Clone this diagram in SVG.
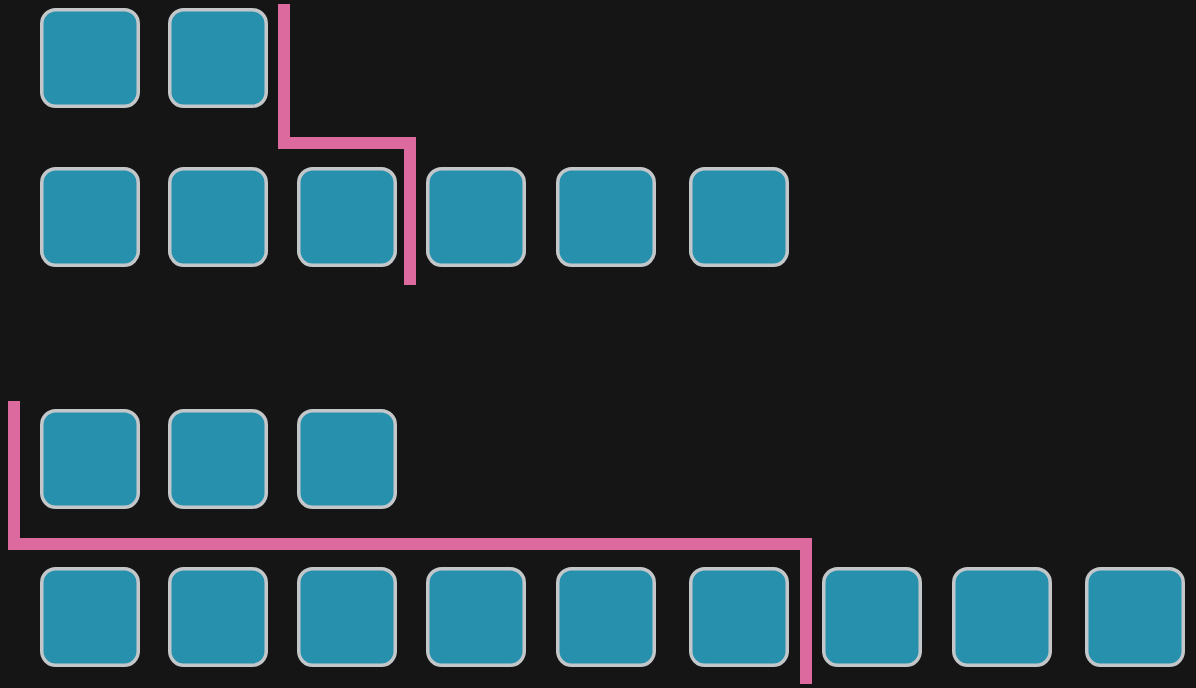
<svg xmlns="http://www.w3.org/2000/svg" width="1196" height="688" viewBox="0 0 1196 688">
<defs>
<style>
.b{fill:#2790ad;stroke:#c3c7c9;stroke-width:3.5}
.p{fill:none;stroke:#dc6a9e;stroke-width:12;stroke-linejoin:miter;stroke-linecap:butt}
</style>
<rect id="cell" x="1.75" y="1.75" width="96.5" height="96.5" rx="14" ry="14" class="b"/>
</defs>
<rect width="1196" height="688" fill="#151515"/>
<g id="row1">
<use id="n1_1" href="#cell" x="40" y="8"/>
<use id="n1_2" href="#cell" x="168" y="8"/>
</g>
<g id="row2">
<use id="n2_1" href="#cell" x="40" y="167"/>
<use id="n2_2" href="#cell" x="168" y="167"/>
<use id="n2_3" href="#cell" x="297" y="167"/>
<use id="n2_4" href="#cell" x="426" y="167"/>
<use id="n2_5" href="#cell" x="556" y="167"/>
<use id="n2_6" href="#cell" x="689" y="167"/>
</g>
<g id="row3">
<use id="n3_1" href="#cell" x="40" y="409"/>
<use id="n3_2" href="#cell" x="168" y="409"/>
<use id="n3_3" href="#cell" x="297" y="409"/>
</g>
<g id="row4">
<use id="n4_1" href="#cell" x="40" y="567"/>
<use id="n4_2" href="#cell" x="168" y="567"/>
<use id="n4_3" href="#cell" x="297" y="567"/>
<use id="n4_4" href="#cell" x="426" y="567"/>
<use id="n4_5" href="#cell" x="556" y="567"/>
<use id="n4_6" href="#cell" x="689" y="567"/>
<use id="n4_7" href="#cell" x="822" y="567"/>
<use id="n4_8" href="#cell" x="952" y="567"/>
<use id="n4_9" href="#cell" x="1085" y="567"/>
</g>
<g id="connectors">
<polyline class="p" points="284,4 284,143 410,143 410,285"/>
<polyline class="p" points="14,401 14,544 806,544 806,684"/>
</g>
</svg>
